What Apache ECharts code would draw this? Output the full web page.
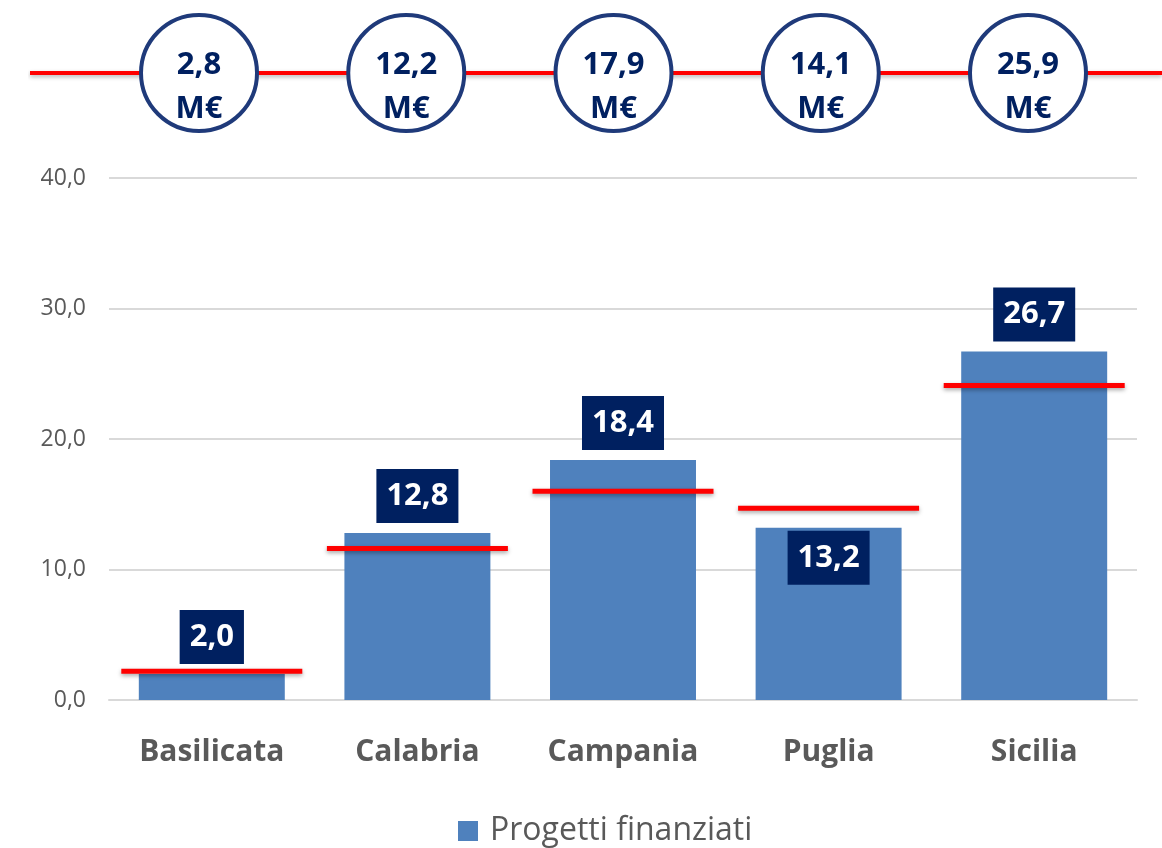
<!DOCTYPE html>
<html>
<head>
<meta charset="utf-8">
<script src="https://cdn.jsdelivr.net/npm/echarts@6/dist/echarts.min.js"></script>
<style>
  html, body { margin: 0; padding: 0; background: #fff; }
  #chart { width: 1162px; height: 848px; }
</style>
</head>
<body>
<div id="chart"></div>
<script>
// dati
var regioni = ['Basilicata', 'Calabria', 'Campania', 'Puglia', 'Sicilia']
var progetti = [2.0, 12.8, 18.4, 13.2, 26.7]
var soglie = [2.2, 11.6, 16.0, 14.7, 24.1]
var importi = [2.8, 12.2, 17.9, 14.1, 25.9]
var yMin = 0
var yMax = 40
var yStep = 10

var fmt = function(v) {
  return Number(v).toFixed(1).replace('.', ',')
}

var font = 'Open Sans'
var grigio = '#595959'
var navy = '#002060'

var chart = echarts.init(document.getElementById('chart'))

// etichette barre: dentro la barra se la linea rossa sta molto sopra (Puglia)
var barData = progetti.map(function(v, i) {
  var item = { value: v }
  if (soglie[i] - v > 1) {
    item.label = { position: 'insideTop', distance: 3 }
  }
  return item
})

// asse dei cerchi in alto (indice categoria come valore)
var topMin = -0.8155
var topMax = 4.6466

chart.setOption({
  animation: false,
  textStyle: { fontFamily: font },
  legend: {
    data: ['Progetti finanziati'],
    left: 458,
    top: 815,
    padding: 0,
    icon: 'rect',
    itemWidth: 20,
    itemHeight: 20,
    textStyle: {
      fontSize: 32,
      color: grigio,
      fontFamily: font,
      padding: [0, 0, 0, 7]
    }
  },
  grid: [
    { left: 109, right: 25, top: 178, bottom: 148 },
    { left: 30, right: 0, top: 14, height: 118 }
  ],
  xAxis: [{
    type: 'category',
    gridIndex: 0,
    data: regioni,
    axisTick: { show: false },
    axisLine: { lineStyle: { color: '#D9D9D9', width: 2 } },
    axisLabel: {
      color: grigio,
      fontSize: 30,
      fontWeight: 'bold',
      fontFamily: font,
      margin: 37
    }
  }, {
    type: 'value',
    gridIndex: 1,
    min: topMin,
    max: topMax,
    show: false
  }],
  yAxis: [{
    type: 'value',
    gridIndex: 0,
    min: yMin,
    max: yMax,
    interval: yStep,
    axisLine: { show: false },
    axisTick: { show: false },
    splitLine: { lineStyle: { color: '#D9D9D9', width: 2 } },
    axisLabel: {
      color: grigio,
      fontSize: 23,
      fontFamily: font,
      margin: 23,
      formatter: fmt
    }
  }, {
    type: 'value',
    gridIndex: 1,
    min: -1,
    max: 1,
    show: false
  }],
  series: [{
    name: 'Progetti finanziati',
    type: 'bar',
    data: barData,
    barWidth: '71%',
    itemStyle: { color: '#4F81BD' },
    z: 2,
    label: {
      show: true,
      position: 'top',
      distance: 10,
      formatter: function(p) { return fmt(p.value) },
      backgroundColor: navy,
      color: '#fff',
      fontSize: 31,
      fontWeight: 'bold',
      fontFamily: font,
      lineHeight: 38,
      padding: [8, 10, 8, 10]
    }
  }, {
    // linee rosse di riferimento
    type: 'scatter',
    data: soglie,
    symbol: 'rect',
    symbolSize: [181, 5],
    itemStyle: {
      color: '#FF0000',
      opacity: 1,
      shadowBlur: 4,
      shadowColor: 'rgba(0,0,0,0.35)',
      shadowOffsetY: 2
    },
    z: 3,
    silent: true
  }, {
    // linea rossa in alto
    type: 'line',
    xAxisIndex: 1,
    yAxisIndex: 1,
    data: [[topMin, 0], [topMax, 0]],
    symbol: 'none',
    lineStyle: {
      color: '#FF0000',
      width: 4,
      shadowBlur: 4,
      shadowColor: 'rgba(0,0,0,0.3)',
      shadowOffsetY: 2
    },
    z: 1,
    silent: true
  }, {
    // cerchi importi
    type: 'scatter',
    xAxisIndex: 1,
    yAxisIndex: 1,
    data: importi.map(function(v, i) { return [i, 0, v] }),
    symbol: 'circle',
    symbolSize: 116,
    itemStyle: {
      color: '#fff',
      opacity: 1,
      borderColor: '#1F3A7A',
      borderWidth: 4
    },
    z: 4,
    label: {
      show: true,
      position: 'inside',
      offset: [0, 14],
      formatter: function(p) { return fmt(p.value[2]) + '\nM€' },
      color: navy,
      fontSize: 31,
      fontWeight: 'bold',
      fontFamily: font,
      lineHeight: 44
    },
    silent: true
  }]
})
</script>
</body>
</html>
